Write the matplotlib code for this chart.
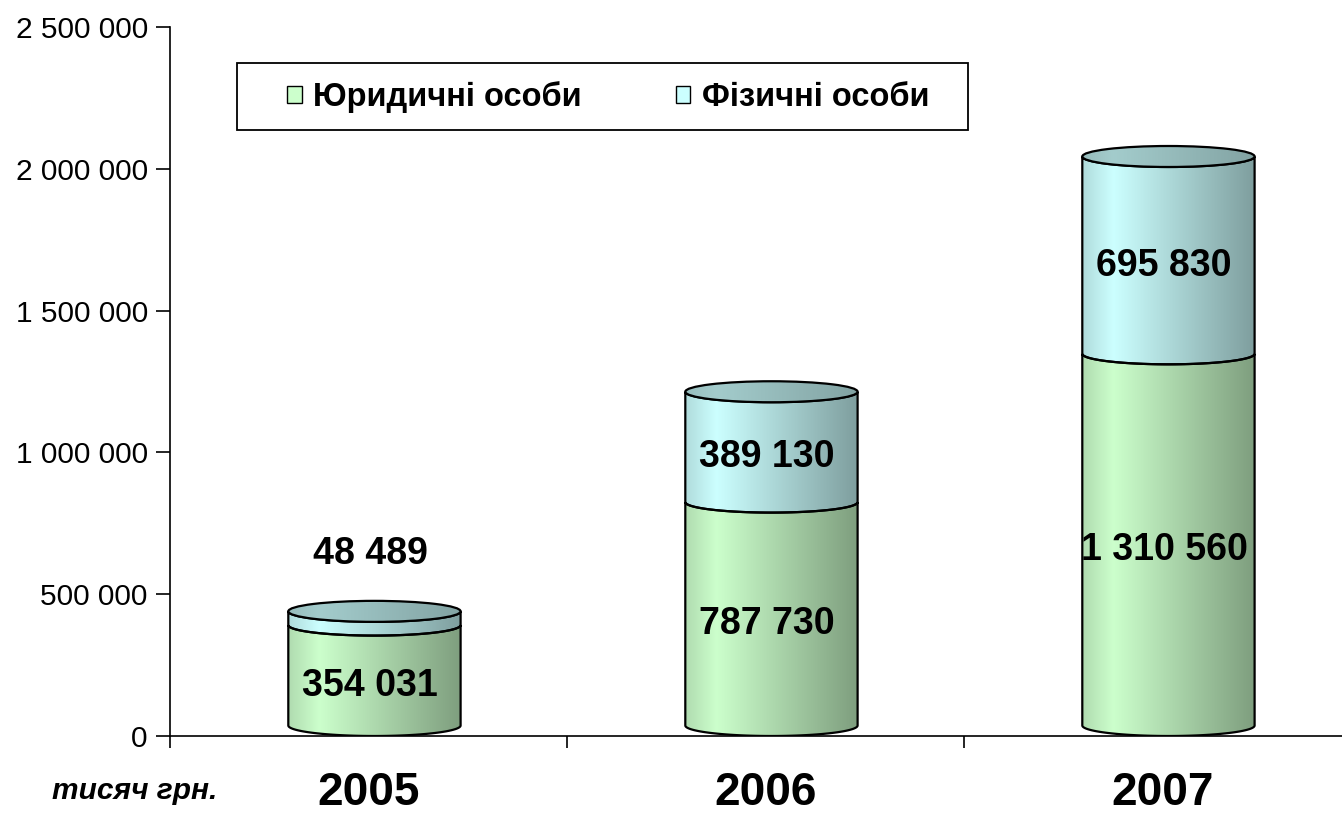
import numpy as np
import matplotlib
matplotlib.use('Agg')
import matplotlib.pyplot as plt
from matplotlib.patches import Polygon, Ellipse, Rectangle, Patch

plt.rcParams['font.family'] = ['Liberation Sans', 'DejaVu Sans']

years = ['2005', '2006', '2007']
yurydychni = [354031, 787730, 1310560]
fizychni = [48489, 389130, 695830]
y_ticks = [0, 500000, 1000000, 1500000, 2000000, 2500000]

green = np.array([0xCC, 0xFF, 0xCC]) / 255
cyan = np.array([0xCC, 0xFF, 0xFF]) / 255


def fmt(v):
    return '{:,}'.format(v).replace(',', ' ')


def gradient(base, lo=0.86, hi=1.0, end=0.62):
    f = np.linspace(0, 1, 200)
    k = np.interp(f, [0, 0.18, 1.0], [lo, hi, end])
    img = np.clip(base[None, :] * k[:, None], 0, 1)
    return img[None, :, :]


fig = plt.figure(figsize=(13.42, 8.13), dpi=100)
ax = fig.add_axes([170/1342, 1-736/813, 1-170/1342, (736-27)/813])

w = 0.217      # half width of cylinder
dh = 37000     # half height of ellipse in data units
off = 0.015

t_front = np.linspace(np.pi, 2*np.pi, 60)


def side(cx, y0, y1, base):
    c0, c1 = y0 + dh, y1 + dh
    bottom = np.column_stack([cx + w*np.cos(t_front), c0 + dh*np.sin(t_front)])
    top = np.column_stack([cx + w*np.cos(t_front[::-1]), c1 + dh*np.sin(t_front[::-1])])
    pts = np.vstack([bottom, top])
    poly = Polygon(pts, closed=True, facecolor='none', edgecolor='black', lw=1.6, zorder=3)
    ax.add_patch(poly)
    im = ax.imshow(gradient(base), extent=(cx-w, cx+w, y0, y1+2*dh), aspect='auto',
                   zorder=2, interpolation='bilinear')
    im.set_clip_path(poly)


for i in range(len(years)):
    cx = i + off
    y1 = yurydychni[i]
    y2 = yurydychni[i] + fizychni[i]
    side(cx, 0, y1, green)
    side(cx, y1, y2, cyan)
    cap = Ellipse((cx, y2 + dh), 2*w, 2*dh, facecolor='none', edgecolor='black', lw=1.6, zorder=4)
    ax.add_patch(cap)
    im = ax.imshow(gradient(cyan, 0.74, 0.8, 0.64), extent=(cx-w, cx+w, y2, y2+2*dh),
                   aspect='auto', zorder=3, interpolation='bilinear')
    im.set_clip_path(cap)

    lx = i + 0.004
    ax.text(lx, y1/2, fmt(y1), ha='center', va='center', fontsize=27,
            fontweight='bold', zorder=5)
    if fizychni[i] < 100000:
        ax.text(lx, y2 + 240000, fmt(fizychni[i]), ha='center', va='center',
                fontsize=27, fontweight='bold', zorder=5)
    else:
        ax.text(lx, y1 + fizychni[i]/2, fmt(fizychni[i]), ha='center', va='center',
                fontsize=27, fontweight='bold', zorder=5)

ax.set_xlim(-0.5, -0.5 + (1342-170)/397)
ax.set_ylim(0, 2500000)

for s in ['top', 'right']:
    ax.spines[s].set_visible(False)
for s in ['left', 'bottom']:
    ax.spines[s].set_linewidth(1.2)

ax.set_yticks(y_ticks)
ax.set_yticklabels([fmt(v) for v in y_ticks])
ax.tick_params(axis='y', direction='out', length=10, width=1.2, labelsize=21.5, pad=6)

ax.set_xticks(range(len(years)))
ax.set_xticklabels(years, fontsize=33, fontweight='bold')
ax.tick_params(axis='x', which='major', length=0, pad=25)
ax.set_xticks([-0.5, 0.5, 1.5], minor=True)
ax.tick_params(axis='x', which='minor', direction='out', length=8.6, width=1.2)

# legend
frame = Rectangle((0.0572, 0.8547), 0.6809-0.0572, 0.9492-0.8547, transform=ax.transAxes,
                  facecolor='white', edgecolor='black', lw=1.3, zorder=6)
ax.add_patch(frame)
handles = [Patch(facecolor=green, edgecolor='black', lw=1.0),
           Patch(facecolor=cyan, edgecolor='black', lw=1.0)]
leg = ax.legend(handles, ['Юридичні особи', 'Фізичні особи'], loc='center left',
                bbox_to_anchor=(0.0998, 0.901), frameon=False, ncol=2,
                prop={'size': 23.5, 'weight': 'bold'}, handlelength=0.45, handleheight=0.45,
                handletextpad=0.35, columnspacing=2.88, borderpad=0, borderaxespad=0)
leg.set_zorder(7)

fig.text(52/1342, 1-791/813, 'тисяч грн.', fontsize=21.5, fontweight='bold',
         fontstyle='italic', ha='left', va='center')

fig.savefig('out.png', dpi=100)
